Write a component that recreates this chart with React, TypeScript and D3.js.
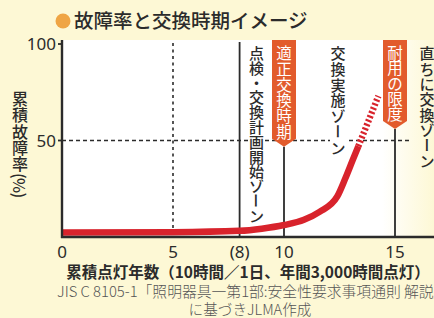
import React from "react";
import * as d3 from "d3";

// 累積点灯年数 vs 累積故障率
const years = [0, 5, 8, 9, 10, 10.9, 11.6, 12.4, 12.75, 13.1, 13.35];
const failureRate = [2.3, 2.5, 3.2, 4.3, 6.2, 8.9, 13, 21, 30, 40, 47];
const projYears = [13.35, 13.8, 14.25];
const projRate = [47, 60, 73];

const xTicks = [0, 5, 8, 10, 15];
const xTickLabels = ["0", "5", "(8)", "10", "15"];
const yTicks = [50, 100];

const title = "故障率と交換時期イメージ";
const yTitle = "累積故障率(%)";
const xTitle = "累積点灯年数（10時間／1日、年間3,000時間点灯）";
const source1 = "JIS C 8105-1「照明器具一第1部:安全性要求事項通則 解説」";
const source2 = "に基づきJLMA作成";

const zoneLabels = ["点検・交換計画開始ゾーン", "交換実施ゾーン", "直ちに交換ゾーン"];
const boxLabels = ["適正交換時期", "耐用の限度"];

const W = 434;
const H = 318;
const FONT = "'Noto Sans CJK JP', 'Noto Sans', sans-serif";
const BG = "#fdf8d5";
const ORANGE = "#e25b2c";
const RED = "#d8232c";
const INK = "#2b2b2b";

const ROTATED = "ー()（）%";

// vertical text, one glyph per cell
const VText: React.FC<{
  text: string;
  cx: number;
  top: number;
  step: number;
  size: number;
  fill: string;
  weight?: number;
}> = ({ text, cx, top, step, size, fill, weight = 500 }) => {
  const chars = Array.from(text);
  let cy = top;
  return (
    <g fill={fill} fontSize={size} fontWeight={weight} textAnchor="middle">
      {chars.map((c, i) => {
        const rot = ROTATED.includes(c);
        const h = rot && c !== "ー" ? step * 0.6 : step;
        const y0 = cy + h / 2;
        cy += h;
        return (
          <text
            key={i}
            x={cx}
            y={y0}
            dominantBaseline="central"
            transform={rot ? `rotate(90 ${cx} ${y0})` : undefined}
          >
            {c}
          </text>
        );
      })}
    </g>
  );
};

const App: React.FC = () => {
  const plotTop = 40;
  const x = d3.scaleLinear().domain([0, 15]).range([62, 395]);
  const y = d3.scaleLinear().domain([0, 100]).range([237, 44]);

  const line = d3
    .line<number>()
    .x((_, i) => x(years[i]))
    .y((d) => y(d))
    .curve(d3.curveMonotoneX);
  const projLine = d3
    .line<number>()
    .x((_, i) => x(projYears[i]))
    .y((d) => y(d))
    .curve(d3.curveMonotoneX);

  const boxes = [
    { text: boxLabels[0], cx: x(10), step: 15.8 },
    { text: boxLabels[1], cx: x(15), step: 15.4 },
  ].map((b) => ({ ...b, bottom: plotTop + 12 + b.text.length * b.step }));

  const zones = [
    { text: zoneLabels[0], cx: x(8) + 17, step: 14.8 },
    { text: zoneLabels[1], cx: (x(10) + x(15)) / 2 - 1.5, step: 15.7 },
    { text: zoneLabels[2], cx: x(15) + 32, step: 15.4 },
  ];

  return (
    <div style={{ position: "absolute", left: 0, top: 0 }}>
      <svg width={W} height={H} style={{ display: "block", fontFamily: FONT }}>
        <defs>
          <linearGradient id="panel" x1="0" x2="1" y1="0" y2="0">
            <stop offset="0%" stopColor="#ffffff" />
            <stop offset="86%" stopColor="#ffffff" />
            <stop offset="100%" stopColor={BG} />
          </linearGradient>
        </defs>
        <rect width={W} height={H} fill={BG} />
        <rect x={x(0)} y={plotTop} width={W - x(0)} height={y(0) - plotTop} fill="url(#panel)" />

        {/* title */}
        <circle cx={63} cy={21} r={7.5} fill="#efa544" />
        <text x={74} y={28} fontSize={19.5} fontWeight={500} fill={INK}>
          {title}
        </text>

        {/* reference lines */}
        <line x1={x(0)} x2={410} y1={y(50)} y2={y(50)} stroke={INK} strokeWidth={1.6} strokeDasharray="4 3" />
        <line x1={x(5)} x2={x(5)} y1={plotTop + 3} y2={y(0)} stroke={INK} strokeWidth={1.6} strokeDasharray="3 3.5" />
        <line x1={x(8)} x2={x(8)} y1={plotTop + 2} y2={y(0)} stroke={INK} strokeWidth={1.8} />
        {boxes.map((b, i) => (
          <line key={i} x1={b.cx} x2={b.cx} y1={b.bottom} y2={y(0)} stroke={INK} strokeWidth={1.8} />
        ))}

        {/* zone labels */}
        {zones.map((z, i) => (
          <g key={i}>
            {i < 2 && <rect x={z.cx - 8} y={plotTop + 4} width={16} height={z.text.length * z.step} fill="#fff" />}
            <VText text={z.text} cx={z.cx} top={plotTop + 5} step={z.step} size={15} fill={INK} weight={500} />
          </g>
        ))}

        {/* orange boxes */}
        {boxes.map((b, i) => (
          <g key={i}>
            <path
              d={`M${b.cx - 12},${plotTop} H${b.cx + 12} V${b.bottom - 8} L${b.cx},${b.bottom} L${b.cx - 12},${b.bottom - 8} Z`}
              fill={ORANGE}
            />
            <VText text={b.text} cx={b.cx} top={plotTop + 4} step={b.step} size={15.5} fill="#fff" weight={400} />
          </g>
        ))}

        {/* curve */}
        <path d={line(failureRate) ?? ""} fill="none" stroke={RED} strokeWidth={6.5} />
        <path d={projLine(projRate) ?? ""} fill="none" stroke={RED} strokeWidth={6.5} strokeDasharray="2.2 2.2" />

        {/* axes */}
        <line x1={x(0)} x2={x(0)} y1={plotTop} y2={y(0) + 1} stroke={INK} strokeWidth={2.4} />
        <line x1={x(0) - 1} x2={W} y1={y(0)} y2={y(0)} stroke={INK} strokeWidth={2.4} />
        {yTicks.map((t) => (
          <g key={t}>
            <line x1={x(0) - 4} x2={x(0)} y1={y(t)} y2={y(t)} stroke={INK} strokeWidth={1.8} />
            <text x={x(0) - 6} y={y(t)} dy="0.36em" textAnchor="end" fontSize={17} fill={INK} fontFamily="'Noto Sans', sans-serif">
              {t}
            </text>
          </g>
        ))}
        {xTicks.map((t, i) => (
          <text key={t} x={x(t)} y={258} textAnchor="middle" fontSize={17} fill={INK} fontFamily="'Noto Sans', sans-serif">
            {xTickLabels[i]}
          </text>
        ))}

        {/* axis titles */}
        <VText text={yTitle} cx={20} top={90} step={16.2} size={16} fill={INK} weight={500} />
        <text x={248} y={278} textAnchor="middle" fontSize={15.5} fontWeight={700} fill={INK}>
          {xTitle}
        </text>
        <text x={57} y={297} fontSize={14.8} fill="#555" fontWeight={300}>
          {source1}
        </text>
        <text x={250} y={315} textAnchor="middle" fontSize={14.6} fill="#555" fontWeight={300}>
          {source2}
        </text>
      </svg>
    </div>
  );
};

export default App;
